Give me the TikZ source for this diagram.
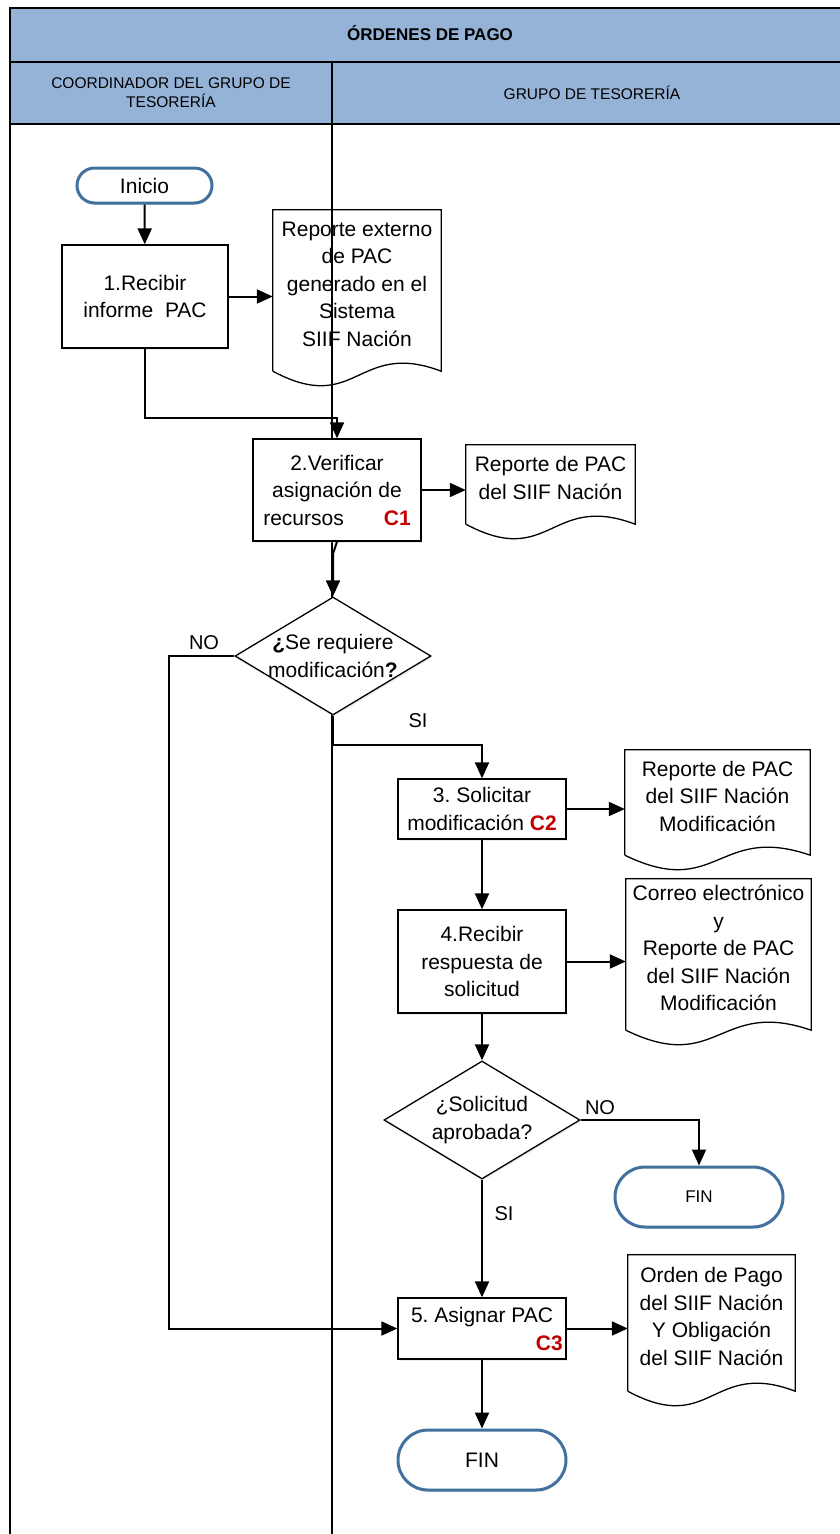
\documentclass[tikz,border=0pt]{standalone}
\usepackage{fontspec}
\setmainfont{Liberation Sans}
\frenchspacing
\usetikzlibrary{shapes.geometric,arrows.meta,calc,shadows}

\definecolor{headblue}{HTML}{95B3D7}
\definecolor{termblue}{HTML}{41719C}
\definecolor{ctrlred}{HTML}{C00000}

\newcommand{\ctrltag}[1]{\textcolor{ctrlred}{\bfseries #1}}
% document symbol: sides run 13 below the node, wavy bottom edge
\newcommand{\docshape}[1]{%
  \draw[line width=1.3pt] ($(#1.south west)+(0,13)$) -- (#1.north west) -- (#1.north east)
    -- ($(#1.south east)+(0,13)$)
    .. controls ($(#1.south)+(0,-19)$) and ($(#1.south)+(0,58)$) .. ($(#1.south west)+(0,13)$);}

\tikzset{
  txt/.style={font=\fontsize{21}{27.5}\selectfont, align=center},
  soft/.style={drop shadow={shadow xshift=0.5pt, shadow yshift=-2pt, opacity=0.3, fill=termblue!45}},
  process/.style={txt, draw, line width=1.3pt, fill=white, inner sep=2pt, soft},
  term/.style={txt, draw=termblue, line width=3pt, fill=white, inner sep=0pt, soft},
  decision/.style={diamond, draw, line width=1.3pt, fill=white, inner sep=0pt,
    minimum width=196, minimum height=118, soft},
  docnode/.style={txt, inner sep=0pt},
  lanehead/.style={font=\fontsize{15.5}{19}\selectfont, align=center},
  lbl/.style={font=\fontsize{20}{24}\selectfont},
  lane/.style={line width=1.8pt},
  flow/.style={line width=2pt, -{Triangle[length=16pt,width=14pt]}}
}

\begin{document}
\begin{tikzpicture}[x=1pt,y=-1pt]
\useasboundingbox (0,0) rectangle (840,1534);

% swimlanes
\fill[headblue] (10,8) rectangle (840,124);
\draw[lane] (840,8) -- (10,8) -- (10,1534);
\draw[lane] (10,62) -- (840,62);
\draw[lane] (10,124) -- (840,124);
\draw[lane] (332,62) -- (332,1534);

\node[font=\fontsize{17}{20}\selectfont\bfseries] (title) at (430,33) {ÓRDENES DE PAGO};
\node[lanehead] (coord) at (171,93) {COORDINADOR DEL GRUPO DE\\TESORERÍA};
\node[lanehead] (grupo) at (592,93) {GRUPO DE TESORERÍA};

% steps
\node[term, minimum width=135, minimum height=35, rounded corners=17.5pt] (inicio) at (144.5,185.5) {Inicio};
\node[process, minimum width=166, minimum height=103] (recibir) at (145,296.5) {1.Recibir\\informe\ \ PAC};
\node[process, minimum width=168, minimum height=102] (verificar) at (337,490)
  {2.Verificar\\asignación de\\recursos\hspace{40pt}\ctrltag{C1}};
\node[decision] (modif) at (333,656) {};
\node[txt] (modiftxt) at (modif) {{\bfseries ¿}Se requiere\\modificación{\bfseries ?}};
\node[process, minimum width=168, minimum height=60] (solicitar) at (482,809)
  {3. Solicitar\\modificación \ctrltag{C2}};
\node[process, minimum width=168, minimum height=103] (respuesta) at (482,961.5)
  {4.Recibir\\respuesta de\\solicitud};
\node[decision] (aprobada) at (482,1120) {};
\node[txt] (aprobadatxt) at (aprobada) {¿Solicitud\\aprobada?};
\node[term, minimum width=168, minimum height=60, rounded corners=30pt,
  font=\fontsize{17}{20}\selectfont] (fin1) at (699,1197) {FIN};
\node[process, minimum width=168, minimum height=61] (asignar) at (482,1328.5)
  {5. Asignar PAC\\\phantom{C3}};
\node[txt, anchor=east, inner sep=0pt] (asignartag) at (563,1343) {\ctrltag{C3}};
\node[term, minimum width=168, minimum height=60, rounded corners=30pt] (fin2) at (482,1460) {FIN};

% documents
\node[docnode, minimum width=168, minimum height=148] (repext) at (357,284)
  {Reporte externo\\de PAC\\generado en el\\Sistema\\SIIF Nación};
\docshape{repext}
\node[docnode, minimum width=169, minimum height=66] (repsiif) at (550.5,478)
  {Reporte de PAC\\del SIIF Nación};
\docshape{repsiif}
\node[docnode, minimum width=185, minimum height=92] (repmod) at (717.5,796)
  {Reporte de PAC\\del SIIF Nación\\Modificación};
\docshape{repmod}
\node[docnode, minimum width=185, minimum height=138] (correo) at (718.5,948)
  {Correo electrónico\\y\\Reporte de PAC\\del SIIF Nación\\Modificación};
\docshape{correo}
\node[docnode, minimum width=167, minimum height=123] (orden) at (711.5,1316.5)
  {Orden de Pago\\del SIIF Nación\\Y Obligación\\del SIIF Nación};
\docshape{orden}

% connectors
\draw[flow] (inicio) -- (recibir);
\draw[flow] (recibir.east) -- (recibir.east -| repext.west);
\draw[flow] (recibir.south) -- ++(0,69) -| (verificar.north);
\draw[flow] (verificar.east) -- (verificar.east -| repsiif.west);
\draw[flow] (verificar.south) -- ++(-4,12) -- (modif.north);
\draw[flow] (modif.south) -- ++(0,29) -| (solicitar.north);
\draw[flow] (modif.west) -- ++(-65,0) |- (asignar.west);
\draw[flow] (solicitar.east) -- (solicitar.east -| repmod.west);
\draw[flow] (solicitar) -- (respuesta);
\draw[flow] (respuesta.east) -- (respuesta.east -| correo.west);
\draw[flow] (respuesta) -- (aprobada);
\draw[flow] (aprobada.east) -| (fin1.north);
\draw[flow] (aprobada) -- (asignar);
\draw[flow] (asignar.east) -- (asignar.east -| orden.west);
\draw[flow] (asignar) -- (fin2);

\node[lbl] (no1) at (204,643) {NO};
\node[lbl] (si1) at (418,721) {SI};
\node[lbl] (no2) at (600,1108) {NO};
\node[lbl] (si2) at (504,1214) {SI};
\end{tikzpicture}
\end{document}
